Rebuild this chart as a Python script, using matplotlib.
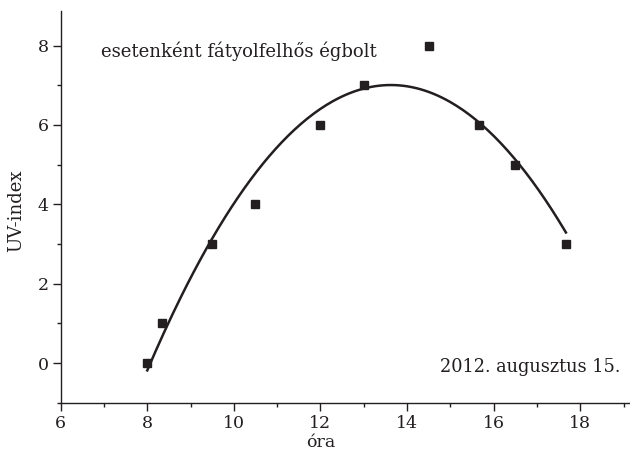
import numpy as np
import matplotlib.pyplot as plt
from matplotlib.ticker import MultipleLocator

# measured UV index over the day
hours = [8.0, 8.33, 9.5, 10.5, 12.0, 13.0, 14.5, 15.67, 16.5, 17.67]
uv_index = [0, 1, 3, 4, 6, 7, 8, 6, 5, 3]

note_text = "esetenként fátyolfelhős égbolt"
date_text = "2012. augusztus 15."
ink = "#231f20"

plt.rcParams['font.family'] = ['DejaVu Serif']

fig = plt.figure(figsize=(6.3, 4.55), dpi=100)
ax = fig.add_axes([0.0963, 0.115, 0.9037, 0.8615])

# quadratic trend line fitted to the measurements
coef = np.polyfit(hours, uv_index, 2)
xs = np.linspace(hours[0], hours[-1], 200)
ax.plot(xs, np.polyval(coef, xs), color=ink, lw=1.8)

ax.plot(hours, uv_index, 's', color=ink, ms=6, mec=ink)

ax.set_xlim(6, 19.15)
ax.set_ylim(-1, 8.88)
ax.xaxis.set_major_locator(MultipleLocator(2))
ax.xaxis.set_minor_locator(MultipleLocator(1))
ax.yaxis.set_major_locator(MultipleLocator(2))
ax.yaxis.set_minor_locator(MultipleLocator(1))

for side in ['top', 'right']:
    ax.spines[side].set_visible(False)
for side in ['left', 'bottom']:
    ax.spines[side].set_color(ink)
    ax.spines[side].set_linewidth(1.0)

ax.tick_params(which='major', length=6, width=1.0, color=ink,
               labelsize=12.5, labelcolor=ink)
ax.tick_params(axis='x', which='major', pad=3)
ax.tick_params(axis='y', which='major', pad=2.5)
ax.tick_params(which='minor', length=3, width=1.0, color=ink)

ax.set_xlabel("óra", fontsize=12.5, color=ink)
ax.set_ylabel("UV-index", fontsize=13, color=ink)
ax.xaxis.set_label_coords(0.457, -0.08)
ax.yaxis.set_label_coords(-0.063, 0.49)

ax.text(6.93, 7.72, note_text, fontsize=13, color=ink, va='baseline', ha='left')
ax.text(18.93, -0.22, date_text, fontsize=12.8, color=ink, va='baseline', ha='right')

fig.savefig("out.png", dpi=100)
